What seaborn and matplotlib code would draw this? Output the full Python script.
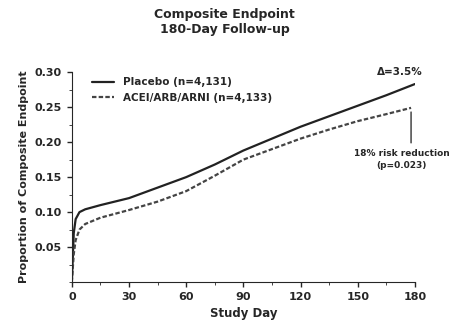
import matplotlib
matplotlib.use("Agg")
import matplotlib.pyplot as plt
import seaborn as sns
import pandas as pd
from matplotlib.ticker import MultipleLocator

days_placebo = [0, 1, 2, 4, 7, 15, 30, 45, 60, 75, 90, 105, 120, 135, 150, 165, 180]
placebo = [0.0, 0.07, 0.09, 0.100, 0.104, 0.110, 0.120, 0.135, 0.150, 0.168, 0.188, 0.205, 0.222, 0.237, 0.252, 0.267, 0.283]
days_treat = [0, 1, 2, 4, 7, 15, 30, 45, 60, 75, 90, 105, 120, 135, 150, 165, 178]
treat = [0.0, 0.04, 0.06, 0.075, 0.083, 0.092, 0.103, 0.115, 0.130, 0.152, 0.175, 0.190, 0.205, 0.218, 0.230, 0.240, 0.249]
series_labels = ["Placebo (n=4,131)", "ACEI/ARB/ARNI (n=4,133)"]
x_ticks = [0, 30, 60, 90, 120, 150, 180]
y_ticks = [0.05, 0.10, 0.15, 0.20, 0.25, 0.30]

df = pd.concat([
    pd.DataFrame({"day": days_placebo, "p": placebo, "grp": series_labels[0]}),
    pd.DataFrame({"day": days_treat, "p": treat, "grp": series_labels[1]}),
])

sns.set_style("ticks")
plt.rcParams['font.family'] = ['DejaVu Sans']
fig = plt.figure(figsize=(4.49, 3.25), dpi=100)
ax = fig.add_axes([0.160, 0.132, 0.764, 0.646])
sns.lineplot(data=df, x="day", y="p", hue="grp", style="grp",
             palette=["#222222", "#444444"], dashes=[(None, None), (2, 1)],
             linewidth=1.6, ax=ax, estimator=None, sort=False)
ax.set_xlim(0, 180)
ax.set_ylim(0, 0.30)
ax.set_xticks(x_ticks)
ax.set_yticks(y_ticks)
ax.set_yticklabels([f"{v:.2f}" for v in y_ticks])
ax.xaxis.set_minor_locator(MultipleLocator(15))
ax.yaxis.set_minor_locator(MultipleLocator(0.025))
ax.tick_params(labelsize=8, width=1)
for lab in ax.get_xticklabels() + ax.get_yticklabels():
    lab.set_fontweight("bold")
sns.despine(ax=ax)
ax.set_xlabel("Study Day", fontsize=8.5, fontweight="bold")
ax.set_ylabel("Proportion of Composite Endpoint", fontsize=8, fontweight="bold")
fig.suptitle("Composite Endpoint\n180-Day Follow-up", fontsize=9, fontweight="bold", y=0.975)
leg = ax.legend(loc="upper left", bbox_to_anchor=(0.03, 1.02), frameon=False,
                fontsize=7.5, handlelength=2.2, title=None)
for t in leg.get_texts():
    t.set_fontweight("bold")

ax.annotate("Δ=3.5%", xy=(172, 0.300), ha="center", va="center", fontsize=7.5,
            fontweight="bold", annotation_clip=False)
ax.annotate("", xy=(178, 0.247), xytext=(178, 0.195),
            arrowprops=dict(arrowstyle="-", color="#333333", lw=1.0))
ax.text(173, 0.175, "18% risk reduction\n(p=0.023)", ha="center", va="center",
        fontsize=6.5, fontweight="bold", linespacing=1.5)
fig.savefig("out.png", dpi=100)
